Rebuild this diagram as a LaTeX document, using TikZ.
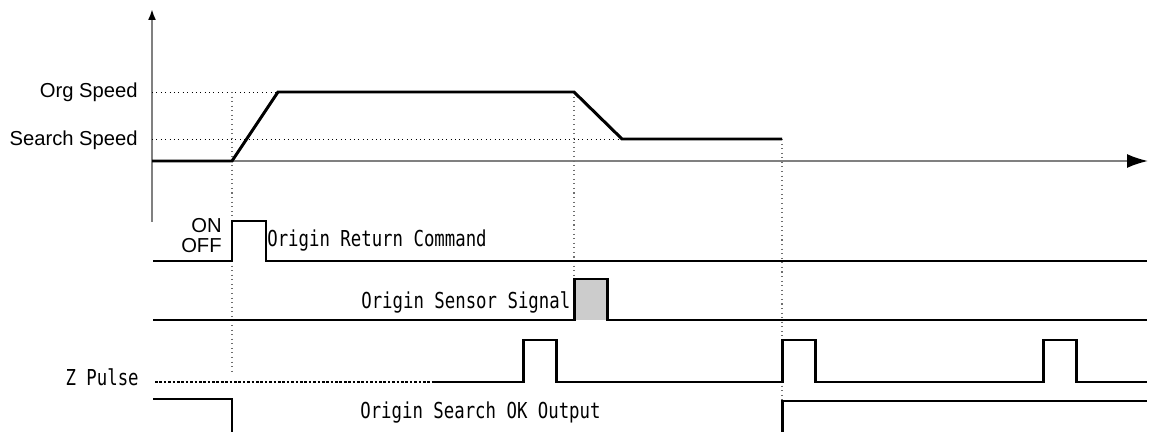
\documentclass[tikz,border=0pt]{standalone}
\usepackage{fontspec}
\setmainfont{Liberation Sans}
\newfontfamily\sigfont[FakeStretch=0.79]{DejaVu Sans Mono}
\usetikzlibrary{arrows.meta}
\definecolor{axisgray}{HTML}{808080}
\definecolor{guidegray}{HTML}{6E6E6E}
\definecolor{pulsefill}{HTML}{CCCCCC}
\tikzset{
  axis/.style={draw=axisgray,line width=1.1pt},
  wave/.style={draw=black,line width=1.7pt,line join=miter},
  guide/.style={draw=guidegray,line width=0.6pt,dotted},
  levelguide/.style={draw=black,line width=0.5pt,dotted},
  lvl/.style={anchor=base east,inner sep=0pt,font=\fontsize{11.5}{12}\selectfont},
  sig/.style={anchor=base west,inner sep=0pt,font=\sigfont\fontsize{12.5}{13}\selectfont}
}

\begin{document}
\begin{tikzpicture}[x=0.02cm,y=-0.02cm]
    \path[use as bounding box] (0,0) rectangle (1149,432);

    % axes
    \draw[axis,-{Latex[length=4.2mm,width=2.8mm,color=black]}]
      (152,161) -- (1148,161);
    \draw[axis,-{Latex[length=2.2mm,width=1.6mm,color=black]}]
      (152,222) -- (152,9);

    % guides
    \draw[levelguide] (152,92) -- (278,92);
    \draw[levelguide] (152,139) -- (622,139);
    \draw[guide] (232,92) -- (232,375);
    \draw[guide] (574,92) -- (574,279);
    \draw[guide] (782,139) -- (782,401);

    % speed profile
    \draw[wave] (152,161) -- (232,161) -- (278,92) -- (574,92)
      -- (622,139) -- (782,139);
    \node[lvl] (orgspd) at (138,98) {Org Speed};
    \node[lvl] (srchspd) at (138,146) {Search Speed};

    % origin return command
    \draw[wave] (153,261) -- (232,261) -- (232,221) -- (266,221)
      -- (266,261) -- (1147,261);
    \node[lvl] (on) at (222,233) {ON};
    \node[lvl] (off) at (222,253) {OFF};
    \node[sig] (cmd) at (267,247) {Origin Return Command};

    % origin sensor signal
    \fill[pulsefill] (574,279) rectangle (607,320);
    \draw[wave] (153,320) -- (574,320) -- (574,279) -- (607,279)
      -- (607,320) -- (1147,320);
    \node[sig] (sensor) at (361,308) {Origin Sensor Signal};

    % z pulse
    \node[sig,anchor=base east] (zpulse) at (139,385) {Z Pulse};
    \draw[line width=1.5pt,densely dotted] (155,382) -- (432,382);
    \draw[wave] (432,382) -- (523,382) -- (523,340) -- (556,340)
      -- (556,382) -- (782,382) -- (782,340) -- (815,340)
      -- (815,382) -- (1043,382) -- (1043,340) -- (1076,340)
      -- (1076,382) -- (1147,382);

    % origin search ok output
    \draw[wave] (153,399) -- (232,399) -- (232,433);
    \draw[wave] (782,433) -- (782,401) -- (1147,401);
    \node[sig] (okout) at (360,418) {Origin Search OK Output};
  \end{tikzpicture}
\end{document}
